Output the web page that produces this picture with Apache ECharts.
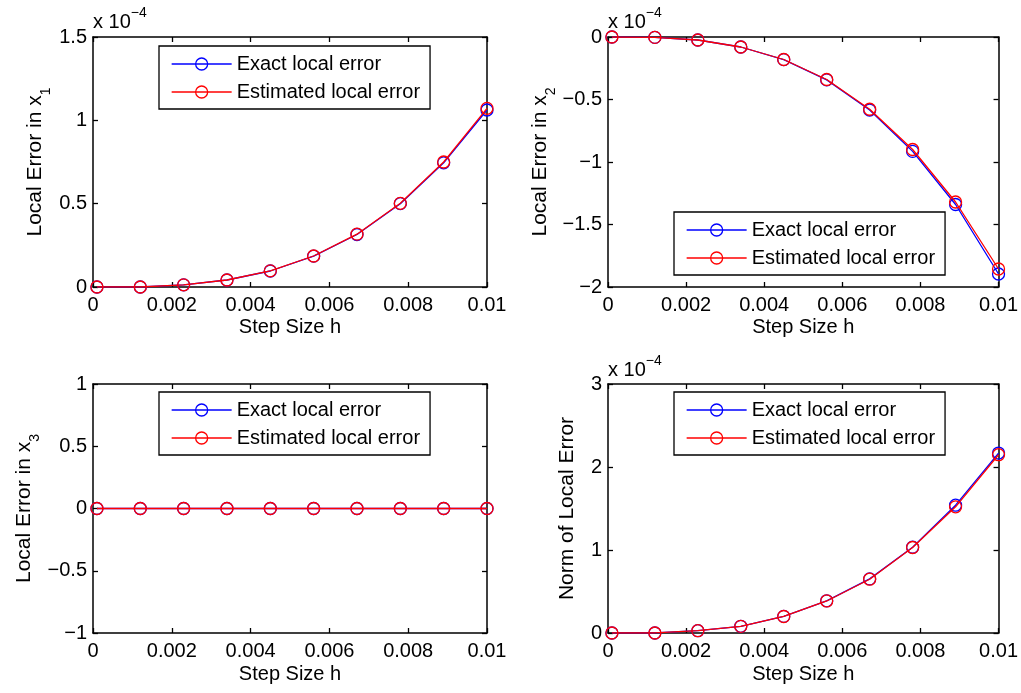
<!DOCTYPE html>
<html><head><meta charset="utf-8">
<script src="https://cdn.jsdelivr.net/npm/echarts@6/dist/echarts.min.js"></script>
<style>html,body{margin:0;padding:0;background:#fff}#c{width:1021px;height:693px}</style>
</head><body><div id="c"></div>
<script>
// Step sizes h
const stepSize = [0.0001, 0.0012, 0.0023, 0.0034, 0.0045, 0.0056, 0.0067, 0.0078, 0.0089, 0.0100];
// Values in units of 1e-4 (axes show "x 10^-4")
const x1Exact = [0, 0.0001, 0.013, 0.042, 0.096, 0.185, 0.315, 0.500, 0.745, 1.062];
const x1Est   = [0, 0.0001, 0.013, 0.042, 0.097, 0.186, 0.317, 0.502, 0.750, 1.072];
const x2Exact = [0, -0.003, -0.024, -0.080, -0.181, -0.343, -0.584, -0.915, -1.340, -1.896];
const x2Est   = [0, -0.003, -0.024, -0.080, -0.180, -0.340, -0.578, -0.900, -1.320, -1.856];
const x3Exact = [0, 0, 0, 0, 0, 0, 0, 0, 0, 0];
const x3Est   = [0, 0, 0, 0, 0, 0, 0, 0, 0, 0];
const normExact = [0, 0.0003, 0.028, 0.081, 0.200, 0.388, 0.652, 1.034, 1.540, 2.168];
const normEst   = [0, 0.0003, 0.028, 0.080, 0.199, 0.386, 0.648, 1.030, 1.520, 2.148];
const seriesNames = ['Exact local error', 'Estimated local error'];
const xTitle = 'Step Size h';
const multiplierBase = 'x 10';
const multiplierExp = '\u22124';

const FONT = 'Liberation Sans, Arial, Helvetica, sans-serif';
const panels = [
  {grid: {left: 93, top: 37, width: 394, height: 250}, yMin: 0, yMax: 1.5, yInt: 0.5,
   name: 'Local Error in x', sub: '1', nameGap: 47, xGap: 30, exact: x1Exact, est: x1Est,
   legend: {left: 159, top: 46}, mult: {x: 93, y: 6}},
  {grid: {left: 608, top: 37, width: 392, height: 250}, yMin: -2, yMax: 0, yInt: 0.5,
   name: 'Local Error in x', sub: '2', nameGap: 57, xGap: 30, exact: x2Exact, est: x2Est,
   legend: {left: 674, top: 212}, mult: {x: 608, y: 6}},
  {grid: {left: 93, top: 384, width: 394, height: 249}, yMin: -1, yMax: 1, yInt: 0.5,
   name: 'Local Error in x', sub: '3', nameGap: 58, xGap: 31, exact: x3Exact, est: x3Est,
   legend: {left: 159, top: 392}, mult: null},
  {grid: {left: 608, top: 384, width: 392, height: 249}, yMin: 0, yMax: 3, yInt: 1,
   name: 'Norm of Local Error', sub: '', nameGap: 30, xGap: 31, exact: normExact, est: normEst,
   legend: {left: 674, top: 392}, mult: {x: 608, y: 354}}
];

const fmtNum = v => String(+(+v).toFixed(6)).replace('-', '\u2212');
const axisLine = {show: true, onZero: false, lineStyle: {color: '#000', width: 1.5}};
const tick = {show: true, inside: true, length: 5, lineStyle: {color: '#000', width: 1.3}};

const grids = [], xAxes = [], yAxes = [], series = [], legends = [], graphics = [];
panels.forEach((p, i) => {
  grids.push(Object.assign({containLabel: false}, p.grid));
  const xBase = {type: 'value', gridIndex: i, min: 0, max: 0.01, interval: 0.002,
    splitLine: {show: false}, axisLine: axisLine, axisTick: tick};
  xAxes.push(Object.assign({}, xBase, {position: 'bottom',
    axisLabel: {color: '#000', fontSize: 20, fontFamily: FONT, margin: 8, formatter: fmtNum},
    name: xTitle, nameLocation: 'middle', nameGap: p.xGap,
    nameTextStyle: {color: '#000', fontSize: 20, fontFamily: FONT}}));
  xAxes.push(Object.assign({}, xBase, {position: 'top', axisLabel: {show: false}}));
  const yBase = {type: 'value', gridIndex: i, min: p.yMin, max: p.yMax, interval: p.yInt,
    splitLine: {show: false}, axisLine: axisLine, axisTick: tick};
  const nameStr = p.sub ? '{a|' + p.name + '}{s|' + p.sub + '}' : '{a|' + p.name + '}';
  yAxes.push(Object.assign({}, yBase, {position: 'left',
    axisLabel: {color: '#000', fontSize: 20, fontFamily: FONT, margin: 6, formatter: fmtNum},
    name: nameStr, nameLocation: 'middle', nameGap: p.nameGap,
    nameTextStyle: {color: '#000', fontSize: 21, fontFamily: FONT,
      rich: {
        a: {color: '#000', fontSize: 21, fontFamily: FONT, lineHeight: 21, verticalAlign: 'top'},
        s: {color: '#000', fontSize: 14, fontFamily: FONT, lineHeight: 14, padding: [14, 0, 0, 0], verticalAlign: 'top'}
      }}}));
  yAxes.push(Object.assign({}, yBase, {position: 'right', axisLabel: {show: false}}));
  [[p.exact, '#0000ff', seriesNames[0]], [p.est, '#ff0000', seriesNames[1]]].forEach((d, k) => {
    series.push({
      type: 'line', name: d[2], xAxisIndex: 2 * i, yAxisIndex: 2 * i,
      data: stepSize.map((h, j) => [h, d[0][j]]),
      symbol: 'circle', symbolSize: 12, showSymbol: true,
      lineStyle: {color: d[1], width: 1.3},
      itemStyle: {color: 'rgba(255,255,255,0)', borderColor: d[1], borderWidth: 1.3},
      z: 2 + k, animation: false, silent: true
    });
  });
  legends.push({
    orient: 'vertical', left: p.legend.left, top: p.legend.top,
    data: seriesNames, backgroundColor: '#fff', borderColor: '#000', borderWidth: 1.3,
    padding: [8, 10, 7, 12], itemGap: 8, itemWidth: 60, itemHeight: 15,
    lineStyle: {width: 1.3}, itemStyle: {borderWidth: 1.3},
    textStyle: {color: '#000', fontSize: 20, fontFamily: FONT},
    selectedMode: false, z: 10
  });
  if (p.mult) {
    graphics.push({
      type: 'text', left: p.mult.x, top: p.mult.y, z: 20,
      style: {
        text: '{a|' + multiplierBase + '}{b|' + multiplierExp + '}',
        rich: {
          a: {fill: '#000', fontSize: 20, fontFamily: FONT, lineHeight: 20, verticalAlign: 'bottom'},
          b: {fill: '#000', fontSize: 14, fontFamily: FONT, lineHeight: 14, padding: [0, 0, 12, 0], verticalAlign: 'bottom'}
        }
      }
    });
  }
});

const chart = echarts.init(document.getElementById('c'), null, {renderer: 'canvas'});
chart.setOption({
  backgroundColor: '#fff', animation: false,
  grid: grids, xAxis: xAxes, yAxis: yAxes, series: series, legend: legends, graphic: graphics
});
</script></body></html>
